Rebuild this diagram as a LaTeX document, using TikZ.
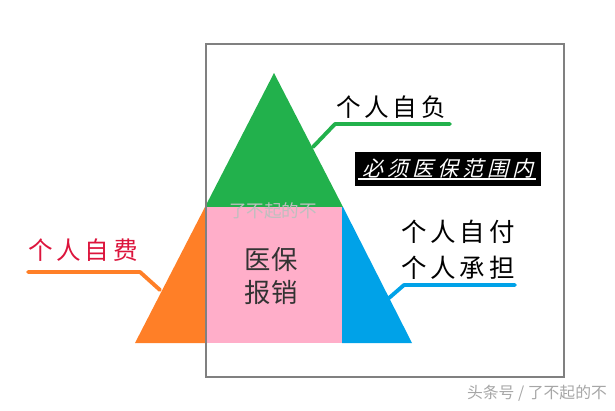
\documentclass[tikz,border=0pt]{standalone}
\usepackage{fontspec}
\newfontfamily\cjk{Noto Sans CJK SC}
\newfontfamily\cjkwide[LetterSpace=15]{Noto Sans CJK SC}
\newfontfamily\cjkslant[FakeSlant=0.25,LetterSpace=18]{Noto Sans CJK SC}
\usetikzlibrary{positioning}
\definecolor{pgreen}{RGB}{34,177,76}
\definecolor{porange}{RGB}{255,127,39}
\definecolor{ppink}{RGB}{255,174,201}
\definecolor{pblue}{RGB}{0,162,232}
\definecolor{pred}{RGB}{220,20,60}
\tikzset{
  lead/.style={line width=2.2pt,line cap=round,line join=round},
  tagtext/.style={inner sep=0pt,font=\cjkwide\fontsize{14}{20}\selectfont}
}

\begin{document}
\begin{tikzpicture}[x=0.02cm,y=-0.02cm]
  \useasboundingbox (0,0) rectangle (615,410);
   \fill[pgreen] (274,73) -- (343,207) -- (205,207) -- cycle;
   \fill[porange] (205,207) -- (135,343) -- (207,343) -- (207,207) -- cycle;
   \fill[ppink] (207,207) rectangle (342,343);
   \fill[pblue] (342,207) -- (343,207) -- (412,343) -- (342,343) -- cycle;
  \draw[gray,line width=1.6pt] (206,44) rectangle (564,377);

  \draw (391,107) node[tagtext] (ziFu) {个人自负};
  \draw (83,250) node[tagtext,text=pred] (ziFei) {个人自费};
  \draw (458,250) node[tagtext,align=left,font=\cjkwide\fontsize{14.5}{20.4}\selectfont] (chengDan) {个人自付\\个人承担};
  \draw (271,276) node[align=center,text=black!80,font=\cjk\fontsize{15}{18.7}\selectfont,inner sep=0pt] (yiBao) {医保\\报销};
  \draw (448,169) node[fill=black,text=white,minimum width=3.74cm,minimum height=0.68cm,inner sep=0pt,font=\cjkslant\fontsize{12}{14}\selectfont] (fanWei) {必须医保范围内};

  \draw (273,211) node[text=black!25,font=\cjk\fontsize{10}{12}\selectfont,inner sep=0pt] (mark) {了不起的不};
  \draw (537,393) node[text=black!35,font=\cjk\fontsize{9}{11}\selectfont,inner sep=0pt] (source) {头条号 / 了不起的不};

  \coordinate (fuA) at (313,147);
  \coordinate (fuB) at (335,124);
  \coordinate (fuC) at (450,124);
  \coordinate (feiA) at (28,272);
  \coordinate (feiB) at (140,272);
  \coordinate (feiC) at (160,290);
  \coordinate (danA) at (389,298);
  \coordinate (danB) at (404,285);
  \coordinate (danC) at (515,285);
  \coordinate (lineA) at (358,179);
  \coordinate (lineB) at (536,179);

    \draw[lead,pgreen] (fuA) -- (fuB) -- (fuC);
    \draw[lead,porange] (feiA) -- (feiB) -- (feiC);
    \draw[lead,pblue] (danA) -- (danB) -- (danC);
    \draw[white,line width=0.6pt] (lineA) -- (lineB);

\end{tikzpicture}
\end{document}
